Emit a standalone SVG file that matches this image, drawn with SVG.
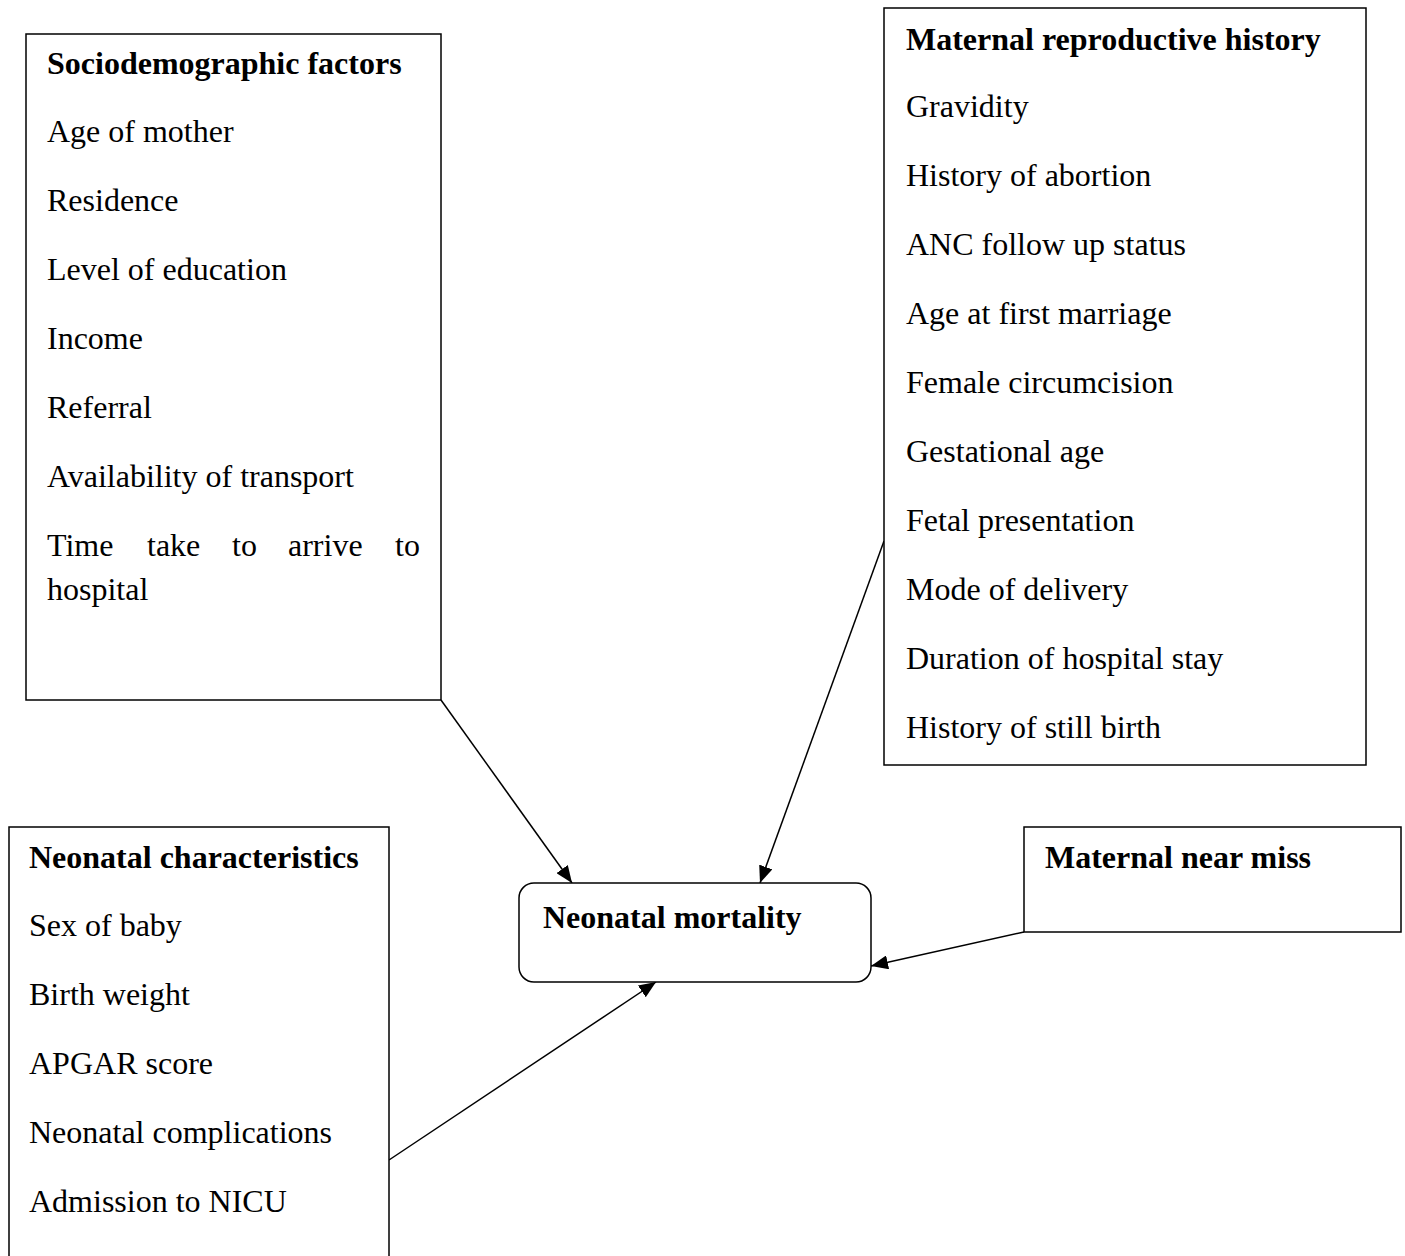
<svg xmlns="http://www.w3.org/2000/svg" width="1405" height="1256" viewBox="0 0 1405 1256">
<style>
.box{fill:#fff;stroke:#000;stroke-width:1.5}
.t{font-family:"Liberation Serif","Times New Roman",serif;font-size:32px;fill:#000}
.b{font-weight:bold}
.c{stroke:#000;stroke-width:1.5;fill:none;marker-end:url(#ah)}
</style>
<defs>
<marker id="ah" markerUnits="userSpaceOnUse" markerWidth="18" markerHeight="14" refX="17" refY="7" orient="auto">
<path d="M0,0 L17,7 L0,14 Z" fill="#000"/>
</marker>
</defs>
<rect width="1405" height="1256" fill="#fff"/>
<g id="connectors">
<line class="c" x1="441" y1="700" x2="572" y2="883"/>
<line class="c" x1="884" y1="541" x2="760" y2="883"/>
<line class="c" x1="1024" y1="932" x2="871" y2="966"/>
<line class="c" x1="389" y1="1160" x2="656" y2="982"/>
</g>
<g id="sociodemographic">
<rect class="box" x="26" y="34" width="415" height="666"/>
<text class="t b" x="47" y="74">Sociodemographic factors</text>
<text class="t" x="47" y="142">Age of mother</text>
<text class="t" x="47" y="211">Residence</text>
<text class="t" x="47" y="280">Level of education</text>
<text class="t" x="47" y="349">Income</text>
<text class="t" x="47" y="418">Referral</text>
<text class="t" x="47" y="487">Availability of transport</text>
<text class="t" y="556"><tspan x="47">Time</tspan><tspan x="147">take</tspan><tspan x="232">to</tspan><tspan x="288">arrive</tspan><tspan x="395">to</tspan></text>
<text class="t" x="47" y="600">hospital</text>
</g>
<g id="maternal-reproductive">
<rect class="box" x="884" y="8" width="482" height="757"/>
<text class="t b" x="906" y="50">Maternal reproductive history</text>
<text class="t" x="906" y="117">Gravidity</text>
<text class="t" x="906" y="186">History of abortion</text>
<text class="t" x="906" y="255">ANC follow up status</text>
<text class="t" x="906" y="324">Age at first marriage</text>
<text class="t" x="906" y="393">Female circumcision</text>
<text class="t" x="906" y="462">Gestational age</text>
<text class="t" x="906" y="531">Fetal presentation</text>
<text class="t" x="906" y="600">Mode of delivery</text>
<text class="t" x="906" y="669">Duration of hospital stay</text>
<text class="t" x="906" y="738">History of still birth</text>
</g>
<g id="neonatal-characteristics">
<rect class="box" x="9" y="827" width="380" height="460"/>
<text class="t b" x="29" y="868">Neonatal characteristics</text>
<text class="t" x="29" y="936">Sex of baby</text>
<text class="t" x="29" y="1005">Birth weight</text>
<text class="t" x="29" y="1074">APGAR score</text>
<text class="t" x="29" y="1143">Neonatal complications</text>
<text class="t" x="29" y="1212">Admission to NICU</text>
</g>
<g id="maternal-near-miss">
<rect class="box" x="1024" y="827" width="377" height="105"/>
<text class="t b" x="1045" y="868">Maternal near miss</text>
</g>
<g id="neonatal-mortality">
<rect class="box" x="519" y="883" width="352" height="99" rx="15" ry="15"/>
<text class="t b" x="543" y="928">Neonatal mortality</text>
</g>
</svg>
